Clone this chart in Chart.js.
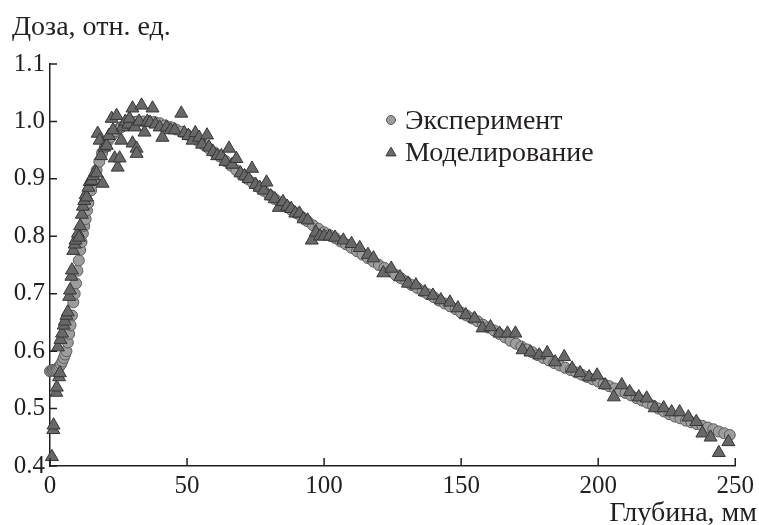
<!DOCTYPE html>
<html>
<head>
<meta charset="utf-8">
<script src="https://cdn.jsdelivr.net/npm/chart.js@4"></script>
<style>
html,body{margin:0;padding:0;background:#fff;}
canvas{display:block;}
</style>
</head>
<body>
<canvas id="c" width="759" height="525"></canvas>
<script>
// ---- tick labels ----
const xTicks = [0, 50, 100, 150, 200, 250];
const yTicks = [0.4, 0.5, 0.6, 0.7, 0.8, 0.9, 1.0, 1.1];

// ---- texts ----
const seriesNames = ['Эксперимент', 'Моделирование'];
const yTitle = 'Доза, отн. ед.';
const xTitle = 'Глубина, мм';

// ---- series: Эксперимент ----
const expDepth = [0,0.5,1,1.5,2,2.5,3,3.5,4,4.5,5,5.5,6,6.5,7,7.5,8,8.5,9,9.5,10,10.5,11,11.5,12,12.5,13,13.5,14,15,16,17,18,19,20,21,22,23,24,25,26,27,28,29,30,31,32,34,36,38,40,42,44,46,48,50,52,54,56,58,60,62,64,66,68,70,72,74,76,78,80,82,84,86,88,90,92,94,96,98,100,102,104,106,108,110,112,114,116,118,120,122,124,126,128,130,132,134,136,138,140,142,144,146,148,150,152,154,156,158,160,162,164,166,168,170,172,174,176,178,180,182,184,186,188,190,192,194,196,198,200,202,204,206,208,210,212,214,216,218,220,222,224,226,228,230,232,234,236,238,240,242,244,246,248];
const expDose = [0.565,0.566,0.567,0.567,0.568,0.569,0.571,0.574,0.577,0.582,0.588,0.594,0.600,0.615,0.630,0.645,0.662,0.685,0.700,0.718,0.740,0.758,0.776,0.790,0.805,0.818,0.830,0.845,0.858,0.880,0.898,0.915,0.930,0.945,0.955,0.965,0.972,0.978,0.983,0.987,0.990,0.993,0.995,0.997,0.998,0.999,1.000,1.000,1.000,0.999,0.997,0.993,0.990,0.986,0.982,0.977,0.972,0.966,0.960,0.953,0.946,0.939,0.931,0.923,0.915,0.907,0.900,0.893,0.886,0.879,0.872,0.865,0.859,0.853,0.846,0.840,0.833,0.826,0.819,0.813,0.807,0.802,0.797,0.791,0.786,0.780,0.774,0.768,0.762,0.756,0.750,0.745,0.739,0.733,0.727,0.721,0.715,0.710,0.704,0.699,0.694,0.688,0.683,0.678,0.673,0.667,0.662,0.657,0.652,0.646,0.641,0.636,0.630,0.624,0.618,0.613,0.608,0.603,0.598,0.593,0.588,0.584,0.579,0.575,0.571,0.567,0.563,0.559,0.555,0.551,0.547,0.543,0.539,0.535,0.531,0.527,0.523,0.518,0.514,0.510,0.505,0.500,0.495,0.490,0.486,0.483,0.479,0.476,0.473,0.470,0.467,0.464,0.460,0.457,0.454];

// ---- series: Моделирование ----
const simDepth = [0.7,1.2,1.3,2.3,2.5,3.3,3.6,2.9,3.8,4.4,5.0,5.4,6.0,6.5,7.0,7.3,7.8,8.0,8.5,9.0,9.3,10.2,10.6,11.0,11.6,12.0,12.5,13.0,13.4,14.0,14.5,15.2,15.8,16.5,17.0,17.4,18.1,18.6,19.2,19.8,20.7,21.5,22.5,23.0,23.6,24.3,24.7,25.4,26.0,26.5,27.5,28.5,29.0,30.1,30.1,31.0,31.6,31.6,32.5,33.4,34.5,35.5,36.5,37.4,38.5,40.0,41.0,42.5,44.0,45.5,47.9,49.0,50.5,52.0,53.0,54.4,55.5,57.3,58.0,59.5,61.0,62.5,64.0,65.3,66.5,68.0,69.5,71.0,72.5,73.7,75.0,76.5,78.0,79.0,80.5,82.0,83.5,85.0,86.5,88.0,89.5,91.0,92.5,94.0,95.5,97.0,98.5,100.0,102.0,104.0,107.0,110.0,113.0,116.0,118.0,121.6,124.5,127.7,130.6,133.5,136.8,139.7,142.6,145.9,148.8,151.7,154.9,157.8,160.7,164.0,166.9,169.8,172.4,175.3,178.5,181.4,184.3,187.6,190.5,193.4,196.7,199.6,202.5,205.7,208.6,211.5,214.8,217.7,220.6,223.9,226.8,229.7,232.9,235.8,238.0,241.0,244.0,247.5];
const simDose = [0.416,0.463,0.471,0.528,0.537,0.555,0.562,0.607,0.620,0.631,0.645,0.652,0.662,0.668,0.695,0.706,0.730,0.741,0.775,0.786,0.793,0.805,0.798,0.818,0.838,0.852,0.862,0.872,0.868,0.885,0.895,0.897,0.905,0.912,0.910,0.979,0.967,0.940,0.892,0.955,0.958,0.975,1.005,0.985,0.936,1.010,0.920,0.936,0.967,0.990,1.000,0.995,1.005,1.023,0.962,0.990,0.953,0.944,1.000,1.028,0.981,1.000,0.998,1.023,0.995,0.990,0.972,0.990,0.985,0.985,1.014,0.980,0.975,0.967,0.980,0.972,0.960,0.976,0.955,0.947,0.940,0.940,0.930,0.953,0.925,0.935,0.910,0.905,0.900,0.918,0.890,0.885,0.880,0.894,0.870,0.865,0.850,0.860,0.852,0.848,0.840,0.840,0.830,0.828,0.793,0.807,0.800,0.800,0.800,0.798,0.793,0.787,0.780,0.768,0.762,0.736,0.744,0.729,0.718,0.715,0.703,0.697,0.689,0.685,0.675,0.663,0.657,0.640,0.642,0.631,0.631,0.631,0.602,0.598,0.593,0.597,0.581,0.590,0.570,0.562,0.555,0.558,0.541,0.520,0.541,0.529,0.520,0.518,0.501,0.501,0.494,0.494,0.485,0.477,0.457,0.450,0.423,0.442];

const TEXT = '#231f20';
const FONT = '"Liberation Serif", "Times New Roman", serif';
const EXP_FILL = '#9d9d9d', EXP_LINE = '#5c5c5c';
const SIM_FILL = '#686868', SIM_LINE = '#363636';

const toPts = (xs, ys) => xs.map((v, i) => ({x: v, y: ys[i]}));

const decor = {
  id: 'decor',
  afterDraw(chart) {
    const {ctx, chartArea: a, scales: {x, y}} = chart;
    ctx.save();
    // inner tick marks
    ctx.strokeStyle = TEXT;
    ctx.lineWidth = 1.5;
    ctx.beginPath();
    xTicks.forEach(v => { const px = x.getPixelForValue(v); ctx.moveTo(px, a.bottom); ctx.lineTo(px, a.bottom - 8); });
    yTicks.forEach(v => { const py = y.getPixelForValue(v); ctx.moveTo(a.left, py); ctx.lineTo(a.left + 7, py); });
    ctx.stroke();
    // axis titles
    ctx.fillStyle = TEXT;
    ctx.font = '28px ' + FONT;
    ctx.textBaseline = 'alphabetic';
    ctx.textAlign = 'left';
    ctx.fillText(yTitle, 12, 35);
    ctx.textAlign = 'right';
    ctx.fillText(xTitle, 757, 521);
    // legend
    const lx = 391, ly = [120, 152];
    ctx.fillStyle = EXP_FILL; ctx.strokeStyle = EXP_LINE; ctx.lineWidth = 1;
    Chart.helpers.drawPoint(ctx, {pointStyle: 'circle', radius: 4.5, borderWidth: 1, rotation: 0}, lx, ly[0]);
    ctx.fillStyle = SIM_FILL; ctx.strokeStyle = SIM_LINE;
    Chart.helpers.drawPoint(ctx, {pointStyle: 'triangle', radius: 5.8, borderWidth: 1, rotation: 0}, lx, ly[1] + 1);
    ctx.fillStyle = TEXT;
    ctx.textAlign = 'left';
    ctx.textBaseline = 'alphabetic';
    ctx.fillText(seriesNames[0], 405, ly[0] + 9);
    ctx.fillText(seriesNames[1], 405, ly[1] + 9);
    ctx.restore();
  }
};

new Chart(document.getElementById('c'), {
  type: 'scatter',
  data: {
    datasets: [
      {
        label: seriesNames[0],
        data: toPts(expDepth, expDose),
        pointStyle: 'circle',
        pointRadius: 5.5,
        pointBackgroundColor: EXP_FILL,
        pointBorderColor: EXP_LINE,
        pointBorderWidth: 1,
        order: 1,
        clip: false
      },
      {
        label: seriesNames[1],
        data: toPts(simDepth, simDose),
        pointStyle: 'triangle',
        pointRadius: 7.5,
        pointBackgroundColor: SIM_FILL,
        pointBorderColor: SIM_LINE,
        pointBorderWidth: 1,
        order: 0,
        clip: false
      }
    ]
  },
  options: {
    responsive: false,
    animation: false,
    events: [],
    layout: {padding: {top: 64, right: 20, left: 0, bottom: 0}},
    plugins: {legend: {display: false}, tooltip: {enabled: false}, title: {display: false}},
    scales: {
      x: {
        type: 'linear',
        min: 0, max: 250,
        afterBuildTicks: s => { s.ticks = xTicks.map(v => ({value: v})); },
        afterFit: s => { s.height = 59; },
        grid: {display: true, drawOnChartArea: false, drawTicks: false},
        border: {display: true, color: TEXT, width: 1.5},
        ticks: {color: TEXT, font: {family: FONT, size: 25}, padding: 5, maxRotation: 0, callback: v => String(v)}
      },
      y: {
        type: 'linear',
        min: 0.4, max: 1.1,
        afterBuildTicks: s => { s.ticks = yTicks.map(v => ({value: v})); },
        afterFit: s => { s.width = 50; },
        grid: {display: true, drawOnChartArea: false, drawTicks: false},
        border: {display: true, color: TEXT, width: 1.5},
        ticks: {color: TEXT, font: {family: FONT, size: 25}, padding: 5, callback: v => v.toFixed(1)}
      }
    }
  },
  plugins: [decor]
});
</script>
</body>
</html>
